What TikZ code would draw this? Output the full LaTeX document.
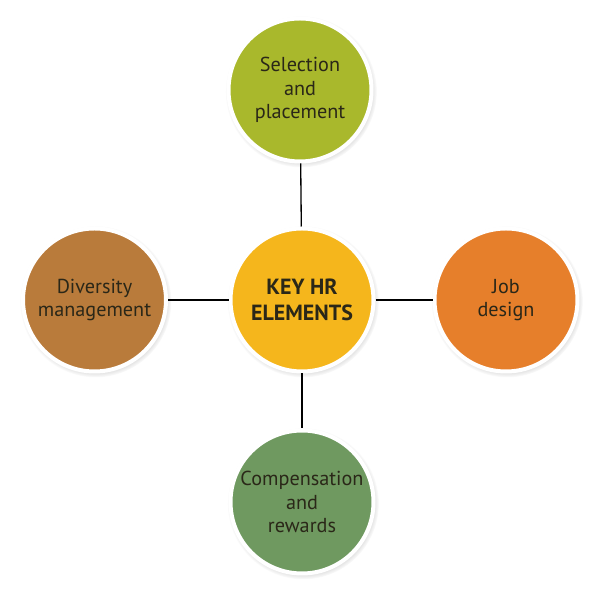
\documentclass[tikz,border=0pt]{standalone}
\usepackage{fontspec}
\setmainfont{PT Sans}
\usepackage{xcolor}
\usepackage{tikz}
\usetikzlibrary{shadows,positioning}

\definecolor{hrolive}{HTML}{A9B82C}
\definecolor{hryellow}{HTML}{F5B61C}
\definecolor{hrbrown}{HTML}{B97B3B}
\definecolor{hrorange}{HTML}{E67F2B}
\definecolor{hrgreen}{HTML}{6F9960}
\definecolor{hrtext}{HTML}{2A2718}

\begin{document}
\begin{tikzpicture}[
  element/.style={circle, minimum size=2.86cm, inner sep=0pt, draw=white, line width=0.08cm,
    align=center, text=hrtext, font=\fontsize{11.5}{13.5}\selectfont,
    circular drop shadow={shadow scale=1.06, shadow xshift=0.02cm, shadow yshift=-0.03cm, opacity=0.5, fill=black!50}},
  link/.style={line width=0.75pt, black}
]
\useasboundingbox (0,0) rectangle (12,11.98);
\node[element, fill=hryellow, font=\fontsize{12.5}{14.5}\selectfont\bfseries] (key) at (6.04,5.98) {KEY HR\\ELEMENTS};
\node[element, fill=hrolive] (sel) at (6.0,10.18) {Selection\\and\\placement};
\node[element, fill=hrgreen] (comp) at (6.04,1.94) {Compensation\\and\\rewards};
\node[element, fill=hrbrown] (div) at (1.89,5.98) {Diversity\\management};
\node[element, fill=hrorange] (job) at (10.12,5.98) {Job\\design};
\draw[link] (key) -- (sel);
\draw[link] (key) -- (comp);
\draw[link] (key) -- (div);
\draw[link] (key) -- (job);
\end{tikzpicture}
\end{document}
